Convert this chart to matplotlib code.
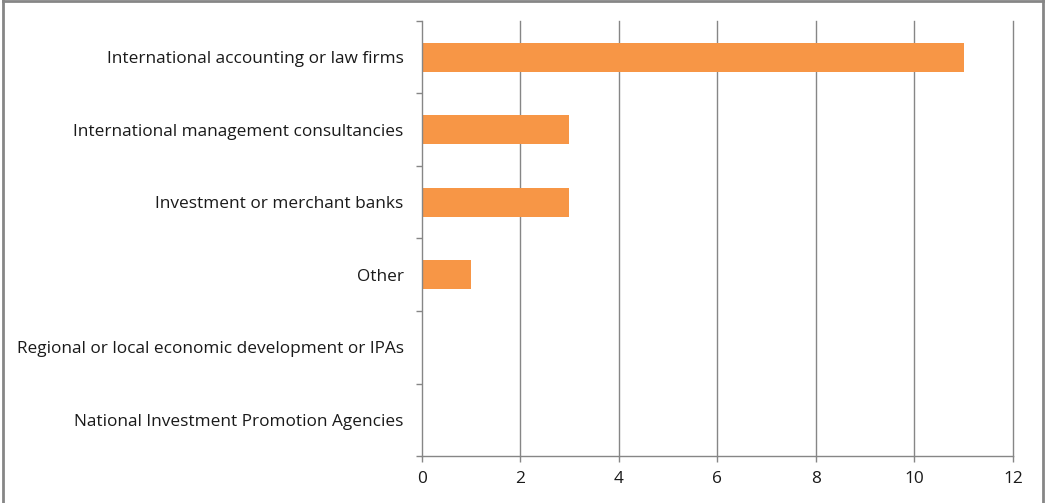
import matplotlib
matplotlib.use('Agg')
import matplotlib.pyplot as plt
from matplotlib.lines import Line2D

categories = [
    "International accounting or law firms",
    "International management consultancies",
    "Investment or merchant banks",
    "Other",
    "Regional or local economic development or IPAs",
    "National Investment Promotion Agencies",
]
counts = [11, 3, 3, 1, 0, 0]
x_ticks = [0, 2, 4, 6, 8, 10, 12]

BAR = '#F79646'
GRID = '#868686'

plt.rcParams['font.family'] = ['Open Sans', 'DejaVu Sans']

fig = plt.figure(figsize=(10.45, 5.03), dpi=100)
ax = fig.add_axes([0.4035, 0.0934, 0.9694 - 0.4035, 0.9583 - 0.0934])

pos = list(range(len(categories)))
ax.barh(pos, counts, height=0.4, color=BAR, zorder=3)
ax.set_ylim(len(categories) - 0.5, -0.5)
ax.set_xlim(0, 12)

ax.set_xticks(x_ticks)
ax.set_xticklabels([str(t) for t in x_ticks])
ax.set_yticks(pos)
ax.set_yticklabels(categories)
ax.set_yticks([p - 0.5 for p in pos] + [len(categories) - 0.5], minor=True)

ax.tick_params(axis='y', which='major', length=0, pad=13, labelsize=12.4, labelcolor='#1a1a1a')
ax.tick_params(axis='y', which='minor', length=4, width=1, color=GRID, direction='out')
ax.tick_params(axis='x', length=4, width=1, color=GRID, pad=7, labelsize=12.4, labelcolor='#1a1a1a')

# vertical gridlines, including the one at the right edge
for t in x_ticks[1:]:
    ax.axvline(t, color=GRID, linewidth=1, zorder=0, clip_on=False)
for side in ('top', 'right'):
    ax.spines[side].set_visible(False)
for side in ('left', 'bottom'):
    ax.spines[side].set_color(GRID)
    ax.spines[side].set_linewidth(1)
    ax.spines[side].set_zorder(4)

# outer frame of the chart area
fw, fh = 1045, 503
for xs, ys in [((3 / fw, 3 / fw), (0, 1)),
               ((3 / fw, 1043 / fw), (1 - 1 / fh, 1 - 1 / fh)),
               ((1043 / fw, 1043 / fw), (0, 1))]:
    fig.add_artist(Line2D(xs, ys, color=GRID, linewidth=2, transform=fig.transFigure))

fig.savefig('out.png', dpi=100)
